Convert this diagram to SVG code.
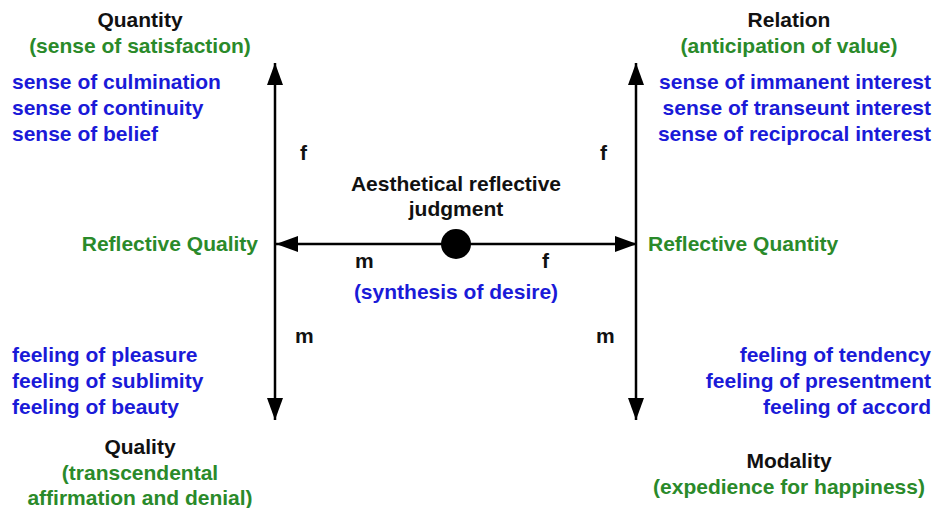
<svg xmlns="http://www.w3.org/2000/svg" width="935" height="508" viewBox="0 0 935 508">
<defs>
<marker id="ah" viewBox="0 0 22 16" refX="22" refY="8" markerWidth="22" markerHeight="16" markerUnits="userSpaceOnUse" orient="auto">
<path d="M0,0 L22,8 L0,16 Z" fill="#000"/>
</marker>
<style>
text{font-family:"Liberation Sans",Arial,sans-serif;font-weight:bold;font-size:21px}
.k{fill:#111}
.g{fill:#2a8a2a}
.b{fill:#1a1ad8}
.m{text-anchor:middle}
.e{text-anchor:end}
.ln{stroke:#000;stroke-width:2.5;fill:none}
</style>
</defs>
<rect width="935" height="508" fill="#fff"/>
<g id="connectors">
<line class="ln" x1="275" y1="244" x2="275" y2="63" marker-end="url(#ah)"/>
<line class="ln" x1="275" y1="244" x2="275" y2="420" marker-end="url(#ah)"/>
<line class="ln" x1="636" y1="244" x2="636" y2="63" marker-end="url(#ah)"/>
<line class="ln" x1="636" y1="244" x2="636" y2="420" marker-end="url(#ah)"/>
<line class="ln" x1="456" y1="244" x2="276" y2="244" marker-end="url(#ah)"/>
<line class="ln" x1="456" y1="244" x2="637" y2="244" marker-end="url(#ah)"/>
<text class="k" x="300" y="160">f</text>
<text class="k" x="600" y="160">f</text>
<text class="k" x="295" y="343">m</text>
<text class="k" x="596" y="343">m</text>
<text class="k" x="355" y="268">m</text>
<text class="k" x="542" y="268">f</text>
</g>
<g id="center">
<circle cx="456" cy="244" r="15" fill="#000"/>
<text class="k m" x="456" y="191">Aesthetical reflective</text>
<text class="k m" x="456" y="216">judgment</text>
<text class="b m" x="456" y="299">(synthesis of desire)</text>
</g>
<g id="quantity">
<text class="k m" x="140" y="27">Quantity</text>
<text class="g m" x="140" y="53">(sense of satisfaction)</text>
<text class="b" x="12" y="89">sense of culmination</text>
<text class="b" x="12" y="115">sense of continuity</text>
<text class="b" x="12" y="141">sense of belief</text>
</g>
<g id="relation">
<text class="k m" x="789" y="27">Relation</text>
<text class="g m" x="789" y="53">(anticipation of value)</text>
<text class="b e" x="931" y="89">sense of immanent interest</text>
<text class="b e" x="931" y="115">sense of transeunt interest</text>
<text class="b e" x="931" y="141">sense of reciprocal interest</text>
</g>
<g id="reflective-quality">
<text class="g e" x="258" y="251">Reflective Quality</text>
</g>
<g id="reflective-quantity">
<text class="g" x="648" y="251">Reflective Quantity</text>
</g>
<g id="quality">
<text class="b" x="12" y="362">feeling of pleasure</text>
<text class="b" x="12" y="388">feeling of sublimity</text>
<text class="b" x="12" y="414">feeling of beauty</text>
<text class="k m" x="140" y="454">Quality</text>
<text class="g m" x="140" y="480">(transcendental</text>
<text class="g m" x="140" y="505">affirmation and denial)</text>
</g>
<g id="modality">
<text class="b e" x="931" y="362">feeling of tendency</text>
<text class="b e" x="931" y="388">feeling of presentment</text>
<text class="b e" x="931" y="414">feeling of accord</text>
<text class="k m" x="789" y="468">Modality</text>
<text class="g m" x="789" y="494">(expedience for happiness)</text>
</g>
</svg>
